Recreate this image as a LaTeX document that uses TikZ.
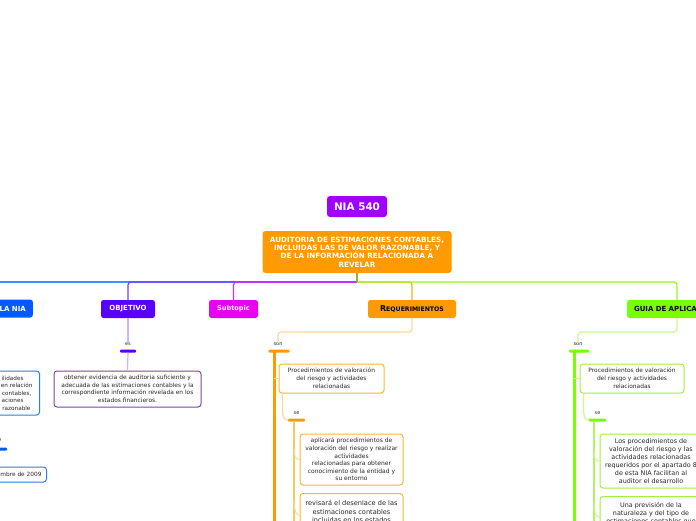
\documentclass[tikz,border=0pt]{standalone}
\usepackage{fontspec}
\setmainfont{DejaVu Sans}
\definecolor{cnia}{RGB}{160,0,255}
\definecolor{corange}{RGB}{255,155,0}
\definecolor{cblue}{RGB}{0,90,255}
\definecolor{cpurple}{RGB}{88,0,255}
\definecolor{cmag}{RGB}{232,0,240}
\definecolor{clime}{RGB}{120,255,0}
\definecolor{lblue}{RGB}{70,140,255}
\definecolor{lpurple}{RGB}{120,60,255}
\definecolor{lmag}{RGB}{225,40,240}
\definecolor{lorange}{RGB}{255,170,40}
\definecolor{llime}{RGB}{150,245,40}
\definecolor{stemc}{RGB}{175,170,40}
\definecolor{ppale}{RGB}{205,180,255}
\definecolor{opale}{RGB}{255,215,150}
\definecolor{gpale}{RGB}{200,250,140}
\definecolor{bordp}{RGB}{125,70,165}
\definecolor{bordb}{RGB}{40,125,235}
\definecolor{bordo}{RGB}{248,185,50}
\definecolor{bordg}{RGB}{160,240,60}
\definecolor{txt}{RGB}{40,40,40}
\tikzset{
  topbox/.style={rounded corners=3pt, inner sep=0pt, text=white, align=center},
  rowbox/.style={rounded corners=2.5pt, inner sep=0pt, minimum height=18pt, font=\fontsize{7}{8}\selectfont\bfseries},
  wbox/.style={rounded corners=3pt, fill=white, line width=1pt, inner xsep=2pt, inner ysep=2pt, align=center, text=txt},
  barbox/.style={rounded corners=1pt, inner sep=0pt, minimum height=3pt},
  lbl/.style={inner sep=0pt, text=txt, font=\fontsize{5}{6}\selectfont},
  conn/.style={line width=1.2pt, rounded corners=3pt},
}
\begin{document}
\begin{tikzpicture}[x=1pt,y=-1pt]
\useasboundingbox (0,0) rectangle (696,520);

% top nodes
\node[topbox, fill=cnia, minimum width=60pt, minimum height=21pt, font=\fontsize{10.4}{12}\selectfont\bfseries] (nia) at (357,206.5) {NIA 540};
\node[topbox, fill=corange, minimum width=189pt, minimum height=42pt, font=\fontsize{7.2}{8.3}\selectfont\bfseries] (main) at (357,252) {AUDITORIA DE ESTIMACIONES CONTABLES,\\INCLUIDAS LAS DE VALOR RAZONABLE, Y\\DE LA INFORMACIÓN RELACIONADA A\\REVELAR};

% row nodes
\node[rowbox, fill=cblue, text=white, anchor=east, text width=60pt, align=right, inner xsep=7pt] (lania) at (33,308.5) {LA NIA};
\node[rowbox, fill=cpurple, text=white, minimum width=54pt] (objetivo) at (128,309) {OBJETIVO};
\node[rowbox, fill=cmag, text=white, minimum width=49pt, font=\fontsize{6.6}{8}\selectfont\bfseries] (subtopic) at (233.5,309) {Subtopic};
\node[rowbox, fill=corange, text=black, minimum width=88pt, font=\fontsize{6.2}{8}\selectfont\bfseries] (req) at (412,309) {{\fontsize{8}{8}\selectfont R}EQUERIMIENTOS};
\node[rowbox, fill=clime, text=black, text width=86pt, align=left, inner xsep=7pt] (guia) at (677,309) {GUIA DE APLICA};

% trunk connectors
\coordinate (trunk) at (357,282);
\coordinate (bl) at (-10,282);
\draw[conn, lblue] (trunk) -- (bl);
\draw[conn, lpurple] (trunk) -| (objetivo.north);
\draw[conn, lmag] (trunk) -| (subtopic.north);
\draw[conn, lorange] (trunk) -| (req.north);
\draw[conn, llime] (trunk) -| (guia.north);
\draw[line width=1.2pt, stemc] (main.south) -- (trunk);

% ---- left blue branch (cut off) ----
\node[wbox, draw=bordb, anchor=east, text width=60pt, align=right, inner xsep=7pt, minimum height=44pt, font=\fontsize{5.7}{7.5}\selectfont] (bluebox) at (40,393) {ilidades\kern9pt\\en relación\\contables,\kern1pt\\aciones\kern9pt\\razonable\kern2pt};
\node[lbl] (bluelbl) at (0,440) {e};
\node[barbox, fill=cblue, minimum width=14pt] (bluebar) at (0,449) {};
\node[wbox, draw=bordb, anchor=east, text width=50pt, align=right, inner xsep=5pt, minimum height=15pt, font=\fontsize{5.8}{7}\selectfont] (bluebox2) at (47,474.5) {mbre de 2009};

% ---- objetivo branch ----
\node[lbl] (objlbl) at (128,344.5) {es};
\node[barbox, fill=cpurple, minimum width=16pt] (objbar) at (128,351) {};
\node[wbox, draw=bordp, minimum width=147pt, minimum height=36pt, font=\fontsize{5.9}{7.5}\selectfont] (objbox) at (127.5,389) {obtener evidencia de auditoria suficiente y\\adecuada de las estimaciones contables y la\\correspondiente información revelada en los\\estados financieros.};
\draw[line width=1.2pt, ppale] (objetivo.south) -- (objlbl.north);
\draw[line width=1.2pt, ppale] (objbar.south) -- (objbox.north);

% ---- requerimientos branch ----
\coordinate (rturn) at (412,332);
\node[lbl] (rlbl) at (278,344.5) {son};
\node[barbox, fill=corange, minimum width=21pt] (rbar) at (279,351) {};
\draw[conn, opale] (req.south) -- (rturn) -| (rlbl.north);
\coordinate (rtop) at (274,351);
\coordinate (rbot) at (274,525);
\draw[line width=3pt, corange] (rtop) -- (rbot);
\node[wbox, draw=bordo, minimum width=105pt, minimum height=29pt, font=\fontsize{5.9}{8}\selectfont] (reqp) at (331.5,378.5) {Procedimientos de valoración\\del riesgo y actividades\\relacionadas};
\draw[line width=1pt, opale] (reqp.west -| rtop) -- (reqp.west);
\node[lbl] (rselbl) at (296.5,413.5) {se};
\node[barbox, fill=corange, minimum width=17pt] (rsebar) at (296.5,420) {};
\draw[line width=1.2pt, opale] ([xshift=4pt]reqp.south west) .. controls +(0,20) and +(-6,0) .. (rsebar.west);
\coordinate (rs1) at (294,421);
\coordinate (rs2) at (294,525);
\draw[line width=1.5pt, color=bordo!80] (rs1) -- (rs2);
\node[wbox, draw=bordo, minimum width=103pt, minimum height=51pt, font=\fontsize{6}{7.6}\selectfont] (reqa) at (351.5,459.5) {aplicará procedimientos de\\valoración del riesgo y realizar\\actividades\\relacionadas para obtener\\conocimiento de la entidad y\\su entorno};
\node[wbox, draw=bordo, anchor=north, minimum width=103pt, minimum height=36pt, inner ysep=3pt, font=\fontsize{6.6}{8.5}\selectfont] (reqb) at (351.5,493) {revisará el desenlace de las\\estimaciones contables\\incluidas en los estados};
\coordinate (ra1) at (294,449);
\coordinate (rb1) at (294,500);
\draw[line width=1pt, opale] (ra1) .. controls +(0,8) and +(-4,0) .. (reqa.west);
\draw[line width=1pt, opale] (rb1) .. controls +(0,8) and +(-4,0) .. ([yshift=-4pt]reqb.west);

% ---- guia branch ----
\coordinate (gturn) at (677,332);
\node[lbl] (glbl) at (578,344.5) {son};
\node[barbox, fill=clime, minimum width=20pt] (gbar) at (579,351) {};
\draw[conn, gpale] (guia.south) -- (gturn) -| (glbl.north);
\coordinate (gtop) at (574,351);
\coordinate (gbot) at (574,525);
\draw[line width=3pt, clime] (gtop) -- (gbot);
\node[wbox, draw=bordg, minimum width=104pt, minimum height=29pt, font=\fontsize{5.9}{8}\selectfont] (gp) at (632,378.5) {Procedimientos de valoración\\del riesgo y actividades\\relacionadas};
\draw[line width=1pt, gpale] (gp.west -| gtop) -- (gp.west);
\node[lbl] (gselbl) at (597.5,413.5) {se};
\node[barbox, fill=clime, minimum width=17pt] (gsebar) at (597.5,420) {};
\draw[line width=1.2pt, gpale] ([xshift=4pt]gp.south west) .. controls +(0,20) and +(-6,0) .. (gsebar.west);
\coordinate (gs1) at (594,421);
\coordinate (gs2) at (594,525);
\draw[line width=1.5pt, color=bordg!80] (gs1) -- (gs2);
\node[wbox, draw=bordg, minimum width=102pt, minimum height=54pt, inner xsep=1pt, font=\fontsize{6.4}{8}\selectfont] (ga) at (651,461) {Los procedimientos de\\valoración del riesgo y las\\actividades relacionadas\\requeridos por el apartado 8\\de esta NIA facilitan al\\auditor el desarrollo};
\node[wbox, draw=bordg, anchor=north, minimum width=102pt, minimum height=34pt, inner xsep=1pt, inner ysep=3pt, font=\fontsize{6.4}{8}\selectfont] (gb) at (651,496) {Una previsión de la\\naturaleza y del tipo de\\estimaciones contables que};
\coordinate (ga1) at (594,451);
\coordinate (gb1) at (594,503);
\draw[line width=1pt, gpale] (ga1) .. controls +(0,8) and +(-4,0) .. (ga.west);
\draw[line width=1pt, gpale] (gb1) .. controls +(0,8) and +(-4,0) .. ([yshift=-4pt]gb.west);
\end{tikzpicture}
\end{document}
